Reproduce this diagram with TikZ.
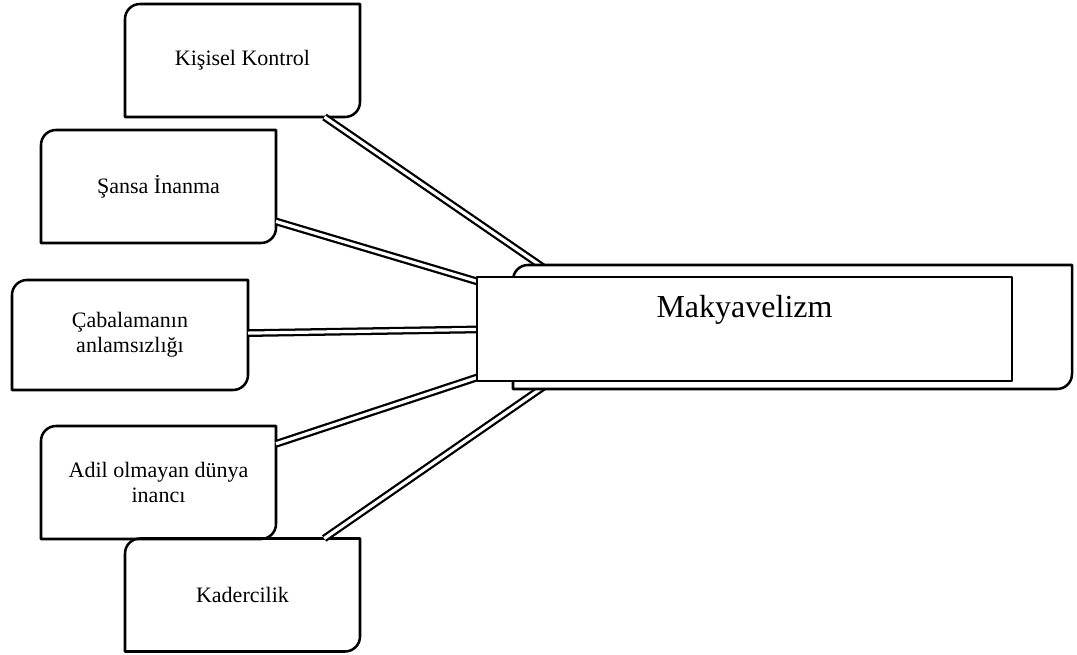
\documentclass[tikz,border=0pt]{standalone}
\usepackage{fontspec}
\setmainfont{Liberation Serif}
\tikzset{
  smallbox/.style={minimum width=176.25pt, minimum height=84.75pt, inner sep=0pt, outer sep=0pt,
    align=center, font=\fontsize{16.5}{19}\selectfont},
  boxline/.style={line width=1.9pt},
  link/.style={double, double distance=2.4pt, line width=1.7pt}
}
\def\rad{11.25pt}
% box with round top-left and bottom-right corners
\newcommand\cornerbox[2][]{%
  \draw[boxline,#1] (#2.north) -- (#2.north east) [rounded corners=\rad] -- (#2.south east)
    [sharp corners] -- (#2.south west) [rounded corners=\rad] -- (#2.north west) [sharp corners] -- cycle;}
\begin{document}
\begin{tikzpicture}[x=0.75pt, y=-0.75pt, line join=round]
  \useasboundingbox (0,0) rectangle (1077,655);
  \node[smallbox] (kis) at (242.5,60.5) {Kişisel Kontrol};
  \node[smallbox] (sans) at (158.5,186.5) {Şansa İnanma};
  \node[smallbox, minimum width=177pt, minimum height=82.5pt] (caba) at (130,335) {Çabalamanın\\anlamsızlığı};
  \node[smallbox] (adil) at (158.5,482.5) {Adil olmayan dünya\\inancı};
  \node[smallbox] (kad) at (242.5,595) {Kadercilik};
  \foreach \n in {kis,sans,caba,adil,kad} \cornerbox{\n};
  \coordinate (hub) at (630,327);
  \foreach \n in {kis,sans,caba,adil,kad} \draw[link] (\n) -- (hub);
  % main box
  \node[minimum width=419.25pt, minimum height=93pt, outer sep=0pt] (frame) at (792.5,327) {};
  \cornerbox[fill=white]{frame}
  \node[draw, line width=1.9pt, fill=white, minimum width=401.25pt, inner ysep=0pt, outer sep=0pt,
    text height=30.75pt, text depth=47.25pt, font=\fontsize{24}{28}\selectfont] (makya) at (744.5,329) {Makyavelizm};
\end{tikzpicture}
\end{document}
